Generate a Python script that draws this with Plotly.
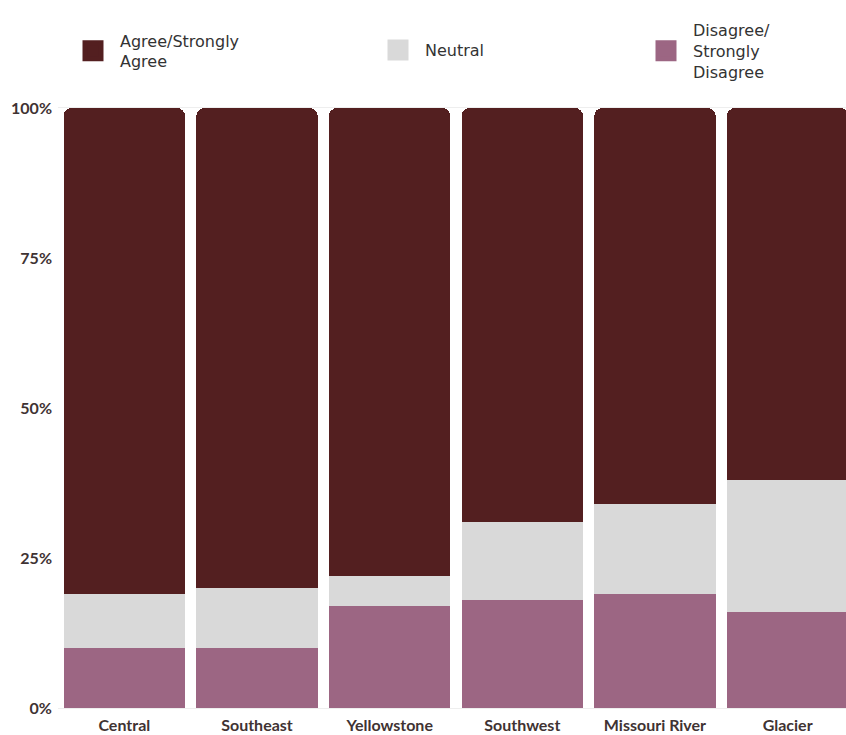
import plotly.graph_objects as go

regions = ["Central", "Southeast", "Yellowstone", "Southwest", "Missouri River", "Glacier"]
disagree = [10, 10, 17, 18, 19, 16]
neutral = [9, 10, 5, 13, 15, 22]
agree = [81, 80, 78, 69, 66, 62]
tick_vals = [0, 25, 50, 75, 100]
tick_text = ["0%", "25%", "50%", "75%", "100%"]

c_agree = "#531F20"
c_neutral = "#D9D9D9"
c_disagree = "#9C6683"

fig = go.Figure()
for name, vals, col in [("Disagree/Strongly Disagree", disagree, c_disagree),
                        ("Neutral", neutral, c_neutral),
                        ("Agree/Strongly Agree", agree, c_agree)]:
    fig.add_bar(x=regions, y=vals, name=name, marker_color=col,
                marker_line_width=0, showlegend=False)

legend_items = [("Agree/Strongly<br>Agree", c_agree, "legend"),
                ("Neutral", c_neutral, "legend2"),
                ("Disagree/<br>Strongly<br>Disagree", c_disagree, "legend3")]
for label, col, lg in legend_items:
    fig.add_scatter(x=[None], y=[None], mode="markers", name=label,
                    marker=dict(symbol="square", size=16, color=col,
                                line=dict(width=5, color=col)),
                    legend=lg, showlegend=True)

lfont = dict(family="DejaVu Sans", size=16, color="#333333")
common = dict(xref="container", yref="container", xanchor="left", yanchor="middle",
              orientation="v", valign="middle", font=lfont, itemwidth=44,
              bgcolor="rgba(0,0,0,0)", borderwidth=0)

tfont = dict(family="Lato", size=16, color="#3f3333", weight="bold")

fig.update_layout(
    barmode="stack",
    bargap=0.085,
    barcornerradius=8,
    width=846, height=735,
    margin=dict(l=58, r=0, t=108, b=27, autoexpand=False),
    paper_bgcolor="white", plot_bgcolor="white",
    legend=dict(x=66/846, y=1-51/735, **common),
    legend2=dict(x=371/846, y=1-50/735, **common),
    legend3=dict(x=639/846, y=1-51/735, **common),
    xaxis=dict(range=[-0.5, 5.44], showgrid=False, showline=True, linecolor="#eeeeee",
               linewidth=1, mirror=True, ticks="", tickangle=0, ticklabelstandoff=3,
               tickfont=tfont),
    yaxis=dict(range=[0, 100], tickvals=tick_vals, ticktext=tick_text, showgrid=False,
               zeroline=False, ticks="", ticklabelstandoff=5,
               tickfont=tfont),
)

fig.write_html("out.html")
